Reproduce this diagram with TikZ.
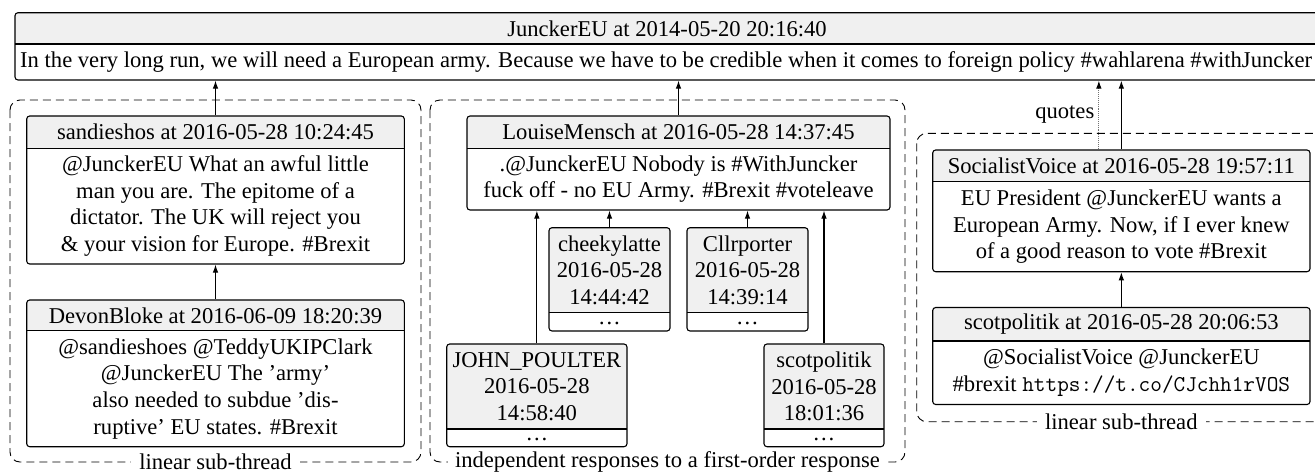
\documentclass[tikz,border=0pt]{standalone}
\usepackage{fontspec}
\setmainfont{Liberation Serif}
\usetikzlibrary{arrows.meta}
\definecolor{hdr}{RGB}{240,240,240}
\tikzset{
  tw/.style={draw, rounded corners=3pt, line width=1.1pt, inner sep=0pt,
    path picture={
      \fill[hdr] (path picture bounding box.north west) rectangle ([yshift={-(#1)}]path picture bounding box.north east);
      \draw[line width=1.1pt] ([yshift={-(#1)}]path picture bounding box.north west) -- ([yshift={-(#1)}]path picture bounding box.north east);}},
  txt/.style={font=\fontsize{22.6}{26.6}\selectfont, align=center, inner sep=0pt},
  grp/.style={draw, line width=0.9pt, dash pattern=on 8pt off 5pt, rounded corners=10pt},
  glabel/.style={txt, fill=white, inner xsep=8pt, inner ysep=2pt},
  arr/.style={line width=1.1pt, -{Latex[length=8pt,width=5.5pt]}},
  quote/.style={line width=1.1pt, densely dotted, draw=black!55, -{Latex[length=8pt,width=5.5pt,color=black]}}
}
\newcommand\tweet[8]{%
  \node[tw={#5-#3}, minimum width={#4-#2}, minimum height={#6-#3}] (#1) at ({(#2+#4)/2},{(#3+#6)/2}) {};
  \node[txt] at ({(#2+#4)/2},{(#3+#5)/2}) {#7};
  \node[txt, text height=6pt, text depth=0pt] at ({(#2+#4)/2},{(#5+#6)/2}) {#8};
}
\newcommand\longtweet[8]{%
  \node[tw={#5-#3}, minimum width={#4-#2}, minimum height={#6-#3}] (#1) at ({(#2+#4)/2},{(#3+#6)/2}) {};
  \node[txt] at ({(#2+#4)/2},{(#3+#5)/2}) {#7};
  \node[txt] at ({(#2+#4)/2},{(#5+#6)/2}) {#8};
}
\begin{document}
\begin{tikzpicture}[x=1pt, y=-1pt]
\path[use as bounding box, clip] (0,0) rectangle (1315,475);
% root
\node[tw={44-12.7}, minimum width=1330, minimum height=67.3] (root) at ({(15+1345)/2},{(12.7+80)/2}) {};
\node[txt] at (667,28.5) {JunckerEU at 2014-05-20 20:16:40};
\node[txt, anchor=west] at (20,62) {In the very long run, we will need a European army. Because we have to be credible when it comes to foreign policy \#wahlarena \#withJuncker};
% groups
\draw[grp] (10,100) rectangle (421,462);
\draw[grp] (430,100) rectangle (905,462);
\draw[grp] (916.7,133.3) rectangle (1345,421.7);
% left group
\longtweet{sandie}{26.7}{116}{404.3}{148.3}{264}{sandieshos at 2016-05-28 10:24:45}{@JunckerEU What an awful little\\man you are. The epitome of a\\dictator. The UK will reject you\\\& your vision for Europe. \#Brexit}
\longtweet{devon}{26.7}{300}{404.3}{330.7}{446.7}{DevonBloke at 2016-06-09 18:20:39}{@sandieshoes @TeddyUKIPClark\\@JunckerEU The 'army'\\also needed to subdue 'dis-\\ruptive' EU states. \#Brexit}
% middle group
\longtweet{louise}{467}{116}{890}{148.3}{210}{LouiseMensch at 2016-05-28 14:37:45}{.@JunckerEU Nobody is \#WithJuncker\\fuck off - no EU Army. \#Brexit \#voteleave}
\tweet{cheeky}{549}{227.7}{670}{312.7}{331}{cheekylatte\\2016-05-28\\14:44:42}{\dots}
\tweet{cllr}{687}{227.7}{808}{312.7}{331}{Cllrporter\\2016-05-28\\14:39:14}{\dots}
\tweet{john}{446.7}{344}{627}{429}{446.7}{JOHN\_POULTER\\2016-05-28\\14:58:40}{\dots}
\tweet{scotm}{764}{344}{884}{429}{446.7}{scotpolitik\\2016-05-28\\18:01:36}{\dots}
% right group
\longtweet{socv}{932.7}{150}{1310}{181.7}{271.7}{SocialistVoice at 2016-05-28 19:57:11}{EU President @JunckerEU wants a\\European Army. Now, if I ever knew\\of a good reason to vote \#Brexit}
\longtweet{scotr}{932.7}{307.5}{1310}{341}{404.5}{scotpolitik at 2016-05-28 20:06:53}{@SocialistVoice @JunckerEU\\\#brexit \texttt{https://t.co/CJchh1rVOS}}
% group labels
\node[glabel] at (215.5,462) {linear sub-thread};
\node[glabel, inner xsep=7pt] at (667.5,462) {independent responses to a first-order response};
\node[glabel] at (1121.3,421.7) {linear sub-thread};
% connectors
\draw[arr] (devon.north) -- (sandie.south);
\draw[arr] (sandie.north) -- (sandie.north |- root.south);
\draw[arr] (louise.north) -- (louise.north |- root.south);
\draw[arr] (john.north) -- (john.north |- louise.south);
\draw[arr] (cheeky.north) -- (cheeky.north |- louise.south);
\draw[arr] (cllr.north) -- (cllr.north |- louise.south);
\draw[arr] (scotm.north) -- (scotm.north |- louise.south);
\draw[arr] (socv.north) -- (socv.north |- root.south);
\draw[arr] (scotr.north) -- (socv.south);
\coordinate (qs) at ([xshift=-22.5pt]socv.north);
\draw[quote] (qs) -- (qs |- root.south) node[midway, left, txt, inner xsep=4pt, text=black] {quotes};
\end{tikzpicture}
\end{document}
